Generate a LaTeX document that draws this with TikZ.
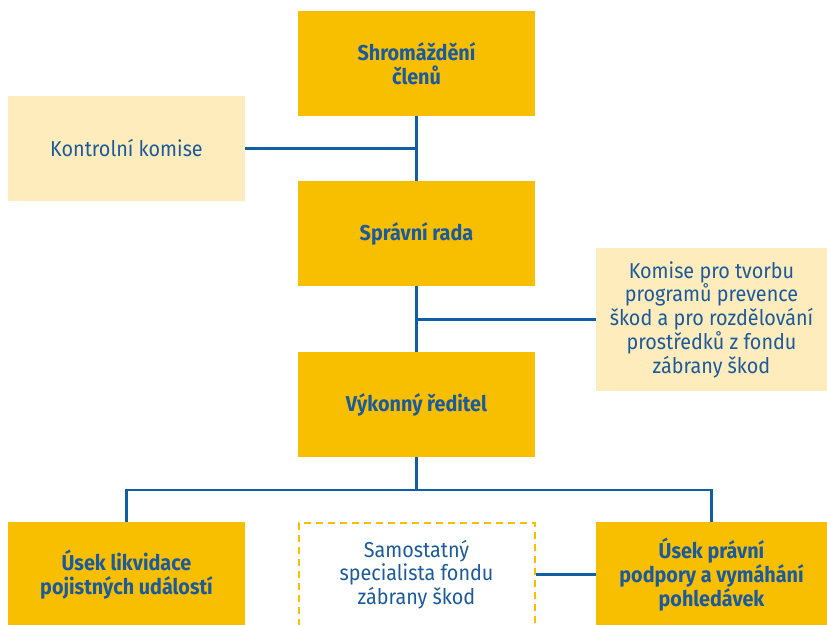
\documentclass[tikz,border=0pt]{standalone}
\usepackage{fontspec}
\setmainfont{Fira Sans}[FakeStretch=0.92]
\definecolor{boxyellow}{HTML}{F8BE00}
\definecolor{paleyellow}{HTML}{FEECBC}
\definecolor{txtblue}{HTML}{1B5A9C}
\definecolor{lineblue}{HTML}{105EA3}
\tikzset{
  mainbox/.style={fill=boxyellow, minimum width=237pt, minimum height=105pt, inner sep=0pt, align=center, text=txtblue, font=\fontsize{21.5}{24}\selectfont\bfseries},
  sidebox/.style={fill=paleyellow, minimum width=237pt, inner sep=0pt, align=center, text=txtblue, font=\fontsize{21.5}{23.8}\selectfont},
  dashbox/.style={draw=boxyellow, line width=2pt, dash pattern=on 7pt off 5pt, minimum width=236pt, minimum height=104pt, inner sep=0pt, align=center, text=txtblue, font=\fontsize{21.5}{23.8}\selectfont},
  conn/.style={draw=lineblue, line width=2.6pt}
}
\begin{document}
\begin{tikzpicture}[x=1pt,y=-1pt]
\clip (0,0) rectangle (827,624);
\fill[white] (0,0) rectangle (827,624);
\node[mainbox] (shrom) at (416.5,63.5) {Shromáždění\\členů};
\node[sidebox, minimum height=105pt] (kontr) at (126.5,148.5) {Kontrolní komise};
\node[mainbox] (sprav) at (416.5,233.5) {Správní rada};
\node[sidebox, minimum height=143pt, minimum width=231pt] (komise) at (711.5,319.5) {Komise pro tvorbu\\programů prevence\\škod a pro rozdělování\\prostředků z fondu\\zábrany škod};
\node[mainbox] (vykon) at (416.5,404.5) {Výkonný ředitel};
\node[mainbox] (likv) at (126.5,574.5) {Úsek likvidace\\pojistných událostí};
\node[dashbox] (samo) at (416.5,574.5) {Samostatný\\specialista fondu\\zábrany škod};
\node[mainbox, minimum width=231pt] (prav) at (711.5,574.5) {Úsek právní\\podpory a vymáhání\\pohledávek};
\coordinate (bus) at (416.5,490);
\draw[conn] (shrom.south) -- (sprav.north);
\draw[conn] (kontr.east) -- (kontr.east -| shrom.south);
\draw[conn] (sprav.south) -- (vykon.north);
\draw[conn] (komise.west) -- (komise.west -| sprav.south);
\draw[conn] (vykon.south) -- (bus);
\draw[conn] (likv.north) -- (likv.north |- bus) -- (prav.north |- bus) -- (prav.north);
\draw[conn] (samo.east) -- (prav.west);
\end{tikzpicture}
\end{document}
